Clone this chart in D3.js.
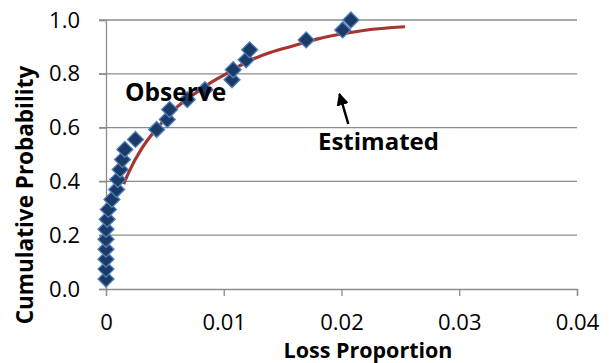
<!DOCTYPE html>
<html>
<head>
<meta charset="utf-8">
<script src="https://cdn.jsdelivr.net/npm/d3@7"></script>
<style>
  html, body { margin: 0; padding: 0; background: #fff; }
  svg { display: block; }
</style>
</head>
<body>
<svg id="chart" width="609" height="363"></svg>
<script>
// ---- data ----
const xTickValues = [0, 0.01, 0.02, 0.03, 0.04];
const xTickLabels = ["0", "0.01", "0.02", "0.03", "0.04"];
const yTickValues = [0, 0.2, 0.4, 0.6, 0.8, 1.0];
const yTickLabels = ["0.0", "0.2", "0.4", "0.6", "0.8", "1.0"];

// Observed points (loss proportion, cumulative probability)
const observedLoss = [0, 0, 0, 0, 0, 0, 0.0001, 0.0002, 0.0005, 0.0009, 0.0010, 0.0012,
  0.0014, 0.0016, 0.0025, 0.0043, 0.0052, 0.0054, 0.0069, 0.0084, 0.0107, 0.0108,
  0.0119, 0.0122, 0.0170, 0.0201, 0.0208];
const observedProb = [0.037, 0.074, 0.111, 0.148, 0.185, 0.222, 0.259, 0.296, 0.333,
  0.370, 0.407, 0.444, 0.481, 0.519, 0.556, 0.593, 0.630, 0.667, 0.704, 0.741, 0.778,
  0.815, 0.852, 0.889, 0.926, 0.963, 1.000];

// Estimated curve
const estimatedLoss = [0.0015, 0.002, 0.003, 0.004, 0.005, 0.006, 0.007, 0.008, 0.009,
  0.010, 0.012, 0.014, 0.016, 0.018, 0.020, 0.022, 0.0254];
const estimatedProb = [0.39, 0.44, 0.52, 0.58, 0.63, 0.675, 0.71, 0.74, 0.77,
  0.795, 0.845, 0.88, 0.905, 0.93, 0.948, 0.962, 0.975];

const labelObserve = "Observe";
const labelEstimated = "Estimated";
const xTitle = "Loss Proportion";
const yTitle = "Cumulative Probability";

// ---- drawing ----
const svg = d3.select("#chart");
const pLeft = 106, pRight = 577, pTop = 20, pBottom = 289;
const x = d3.scaleLinear().domain([0, 0.04]).range([pLeft, pRight]);
const y = d3.scaleLinear().domain([0, 1]).range([pBottom, pTop]);

const gridColor = "#8c8c8c";
const font = "'Open Sans', sans-serif";

// horizontal gridlines (with left tick stubs)
svg.append("g").selectAll("line").data(yTickValues.slice(1)).join("line")
  .attr("x1", pLeft - 7).attr("x2", pRight)
  .attr("y1", d => y(d)).attr("y2", d => y(d))
  .attr("stroke", gridColor).attr("stroke-width", 1.3);

// y axis
const yAxis = d3.axisLeft(y).tickValues(yTickValues)
  .tickFormat((d, i) => yTickLabels[i]).tickSize(7).tickPadding(19);
const gy = svg.append("g").attr("transform", `translate(${pLeft},0)`).call(yAxis);
gy.select(".domain").attr("stroke", gridColor).attr("stroke-width", 1.3);
gy.selectAll(".tick line").attr("stroke", gridColor).attr("stroke-width", 1.3);
gy.selectAll(".tick text").attr("font-family", font).attr("font-size", 22)
  .attr("fill", "#000");

// x axis
const xAxis = d3.axisBottom(x).tickValues(xTickValues)
  .tickFormat((d, i) => xTickLabels[i]).tickSize(7).tickPadding(18);
const gx = svg.append("g").attr("transform", `translate(0,${pBottom})`).call(xAxis);
gx.select(".domain").attr("stroke", gridColor).attr("stroke-width", 1.3);
gx.selectAll(".tick line").attr("stroke", gridColor).attr("stroke-width", 1.3);
gx.selectAll(".tick text").attr("font-family", font).attr("font-size", 22)
  .attr("fill", "#000");

// estimated curve
const estData = estimatedLoss.map((v, i) => [v, estimatedProb[i]]);
svg.append("path")
  .datum(estData)
  .attr("d", d3.line().x(d => x(d[0])).y(d => y(d[1])).curve(d3.curveMonotoneX))
  .attr("fill", "none").attr("stroke", "#A5352E").attr("stroke-width", 3.2);

// observed diamonds
const obsData = observedLoss.map((v, i) => [v, observedProb[i]]);
const r = 8;
svg.append("g").selectAll("path").data(obsData).join("path")
  .attr("transform", d => `translate(${x(d[0])},${y(d[1])})`)
  .attr("d", `M0,${-r}L${r},0L0,${r}L${-r},0Z`)
  .attr("fill", "#1B3A66").attr("stroke", "#4F81BD").attr("stroke-width", 1.3);

// annotations
svg.append("text").attr("x", 125).attr("y", 101)
  .attr("font-family", font).attr("font-weight", 700).attr("font-size", 24.5)
  .attr("fill", "#000").text(labelObserve);
svg.append("text").attr("x", 318).attr("y", 150)
  .attr("font-family", font).attr("font-weight", 700).attr("font-size", 24)
  .attr("fill", "#000").text(labelEstimated);

// arrow
svg.append("defs").append("marker")
  .attr("id", "ah").attr("viewBox", "0 0 10 10").attr("refX", 9).attr("refY", 5)
  .attr("markerWidth", 5).attr("markerHeight", 5).attr("orient", "auto")
  .append("path").attr("d", "M0,0L10,5L0,10Z").attr("fill", "#000");
svg.append("line")
  .attr("x1", 348.3).attr("y1", 124).attr("x2", 339.5).attr("y2", 94)
  .attr("stroke", "#000").attr("stroke-width", 2.5).attr("marker-end", "url(#ah)");

// axis titles
svg.append("text").attr("x", 368).attr("y", 358).attr("text-anchor", "middle")
  .attr("font-family", font).attr("font-weight", 700).attr("font-size", 21.5)
  .attr("fill", "#000").text(xTitle);
svg.append("text").attr("transform", "translate(33,195) rotate(-90)")
  .attr("text-anchor", "middle")
  .attr("font-family", font).attr("font-weight", 700).attr("font-size", 22.5)
  .attr("fill", "#000").text(yTitle);
</script>
</body>
</html>
